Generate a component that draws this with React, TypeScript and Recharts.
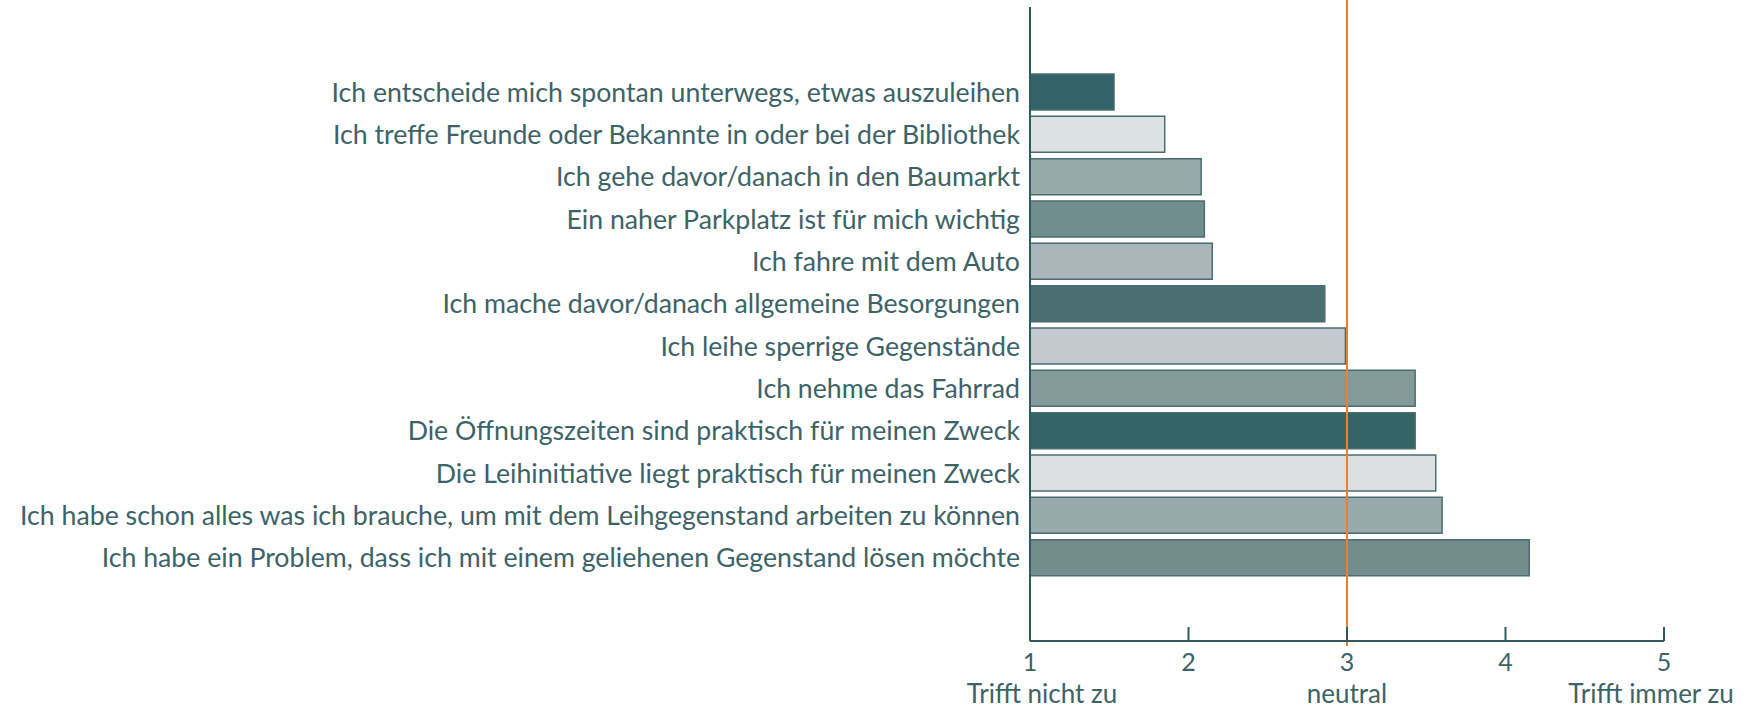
import React from 'react';
import { BarChart, Bar, XAxis, YAxis, Cell, ReferenceLine } from 'recharts';

// statements, top to bottom
const statements = [
  'Ich entscheide mich spontan unterwegs, etwas auszuleihen',
  'Ich treffe Freunde oder Bekannte in oder bei der Bibliothek',
  'Ich gehe davor/danach in den Baumarkt',
  'Ein naher Parkplatz ist für mich wichtig',
  'Ich fahre mit dem Auto',
  'Ich mache davor/danach allgemeine Besorgungen',
  'Ich leihe sperrige Gegenstände',
  'Ich nehme das Fahrrad',
  'Die Öffnungszeiten sind praktisch für meinen Zweck',
  'Die Leihinitiative liegt praktisch für meinen Zweck',
  'Ich habe schon alles was ich brauche, um mit dem Leihgegenstand arbeiten zu können',
  'Ich habe ein Problem, dass ich mit einem geliehenen Gegenstand lösen möchte',
];

// mean agreement (1..5)
const means = [1.53, 1.85, 2.08, 2.1, 2.15, 2.86, 2.99, 3.43, 3.43, 3.56, 3.6, 4.15];

const scaleTicks = [1, 2, 3, 4, 5];
const scaleLabels: Record<number, string> = {
  1: 'Trifft nicht zu',
  3: 'neutral',
  5: 'Trifft immer zu',
};

const palette = [
  '#33646a', '#dce1e3', '#97a9ab', '#728d8d', '#aab7ba', '#4b6e72',
  '#c3cacf', '#839a9b', '#336466', '#dce0e2', '#97a9ab', '#728d8c',
];

const rows = statements.map((s, i) => ({ name: s, value: means[i] }));

const TEXT = '#3d6367';
const AXIS = '#2f5a5e';
const FONT = 'Lato, "Open Sans", sans-serif';

const ScaleTick = (props: any) => {
  const { x, y, payload } = props;
  const label = scaleLabels[payload.value];
  // end labels sit a little inward
  const shift = payload.value === 1 ? 12 : payload.value === 5 ? -13 : 0;
  return (
    <g>
      <line x1={x} x2={x} y1={y - 14} y2={y} stroke={AXIS} strokeWidth={2} />
      <text x={x} y={y + 30} textAnchor="middle" fill={TEXT} fontSize={25} fontFamily={FONT}>
        {payload.value}
      </text>
      {label && (
        <text x={x + shift} y={y + 62} textAnchor="middle" fill={TEXT} fontSize={26} fontFamily={FONT}>
          {label}
        </text>
      )}
    </g>
  );
};

const NeutralLine = (props: any) => {
  const { x1, x2, y1, y2 } = props;
  return <line x1={x1} x2={x2} y1={y1 + 5} y2={y2 - 15} stroke="#e8802e" strokeWidth={2} />;
};

export default function App() {
  return (
    <div style={{ position: 'absolute', left: 0, top: 0, background: '#fff' }}>
      <BarChart
        width={1749}
        height={710}
        data={rows}
        layout="vertical"
        margin={{ top: 7, right: 85, bottom: 0, left: 0 }}
        barCategoryGap={3}
      >
        <XAxis
          type="number"
          domain={[1, 5]}
          ticks={scaleTicks}
          allowDataOverflow
          height={69}
          tickLine={false}
          tickSize={0}
          tickMargin={0}
          axisLine={{ stroke: AXIS, strokeWidth: 2 }}
          tick={<ScaleTick />}
        />
        <YAxis
          type="category"
          dataKey="name"
          width={1030}
          padding={{ top: 64, bottom: 62 }}
          tickLine={false}
          tickSize={0}
          tickMargin={10}
          axisLine={{ stroke: AXIS, strokeWidth: 2 }}
          tick={{ fill: TEXT, fontSize: 26.7, fontFamily: FONT }}
          interval={0}
        />
        <ReferenceLine x={3} shape={<NeutralLine />} />
        <Bar dataKey="value" isAnimationActive={false} stroke="#4b6d70" strokeWidth={1.5}>
          {rows.map((r, i) => (
            <Cell key={r.name} fill={palette[i]} />
          ))}
        </Bar>
      </BarChart>
    </div>
  );
}
